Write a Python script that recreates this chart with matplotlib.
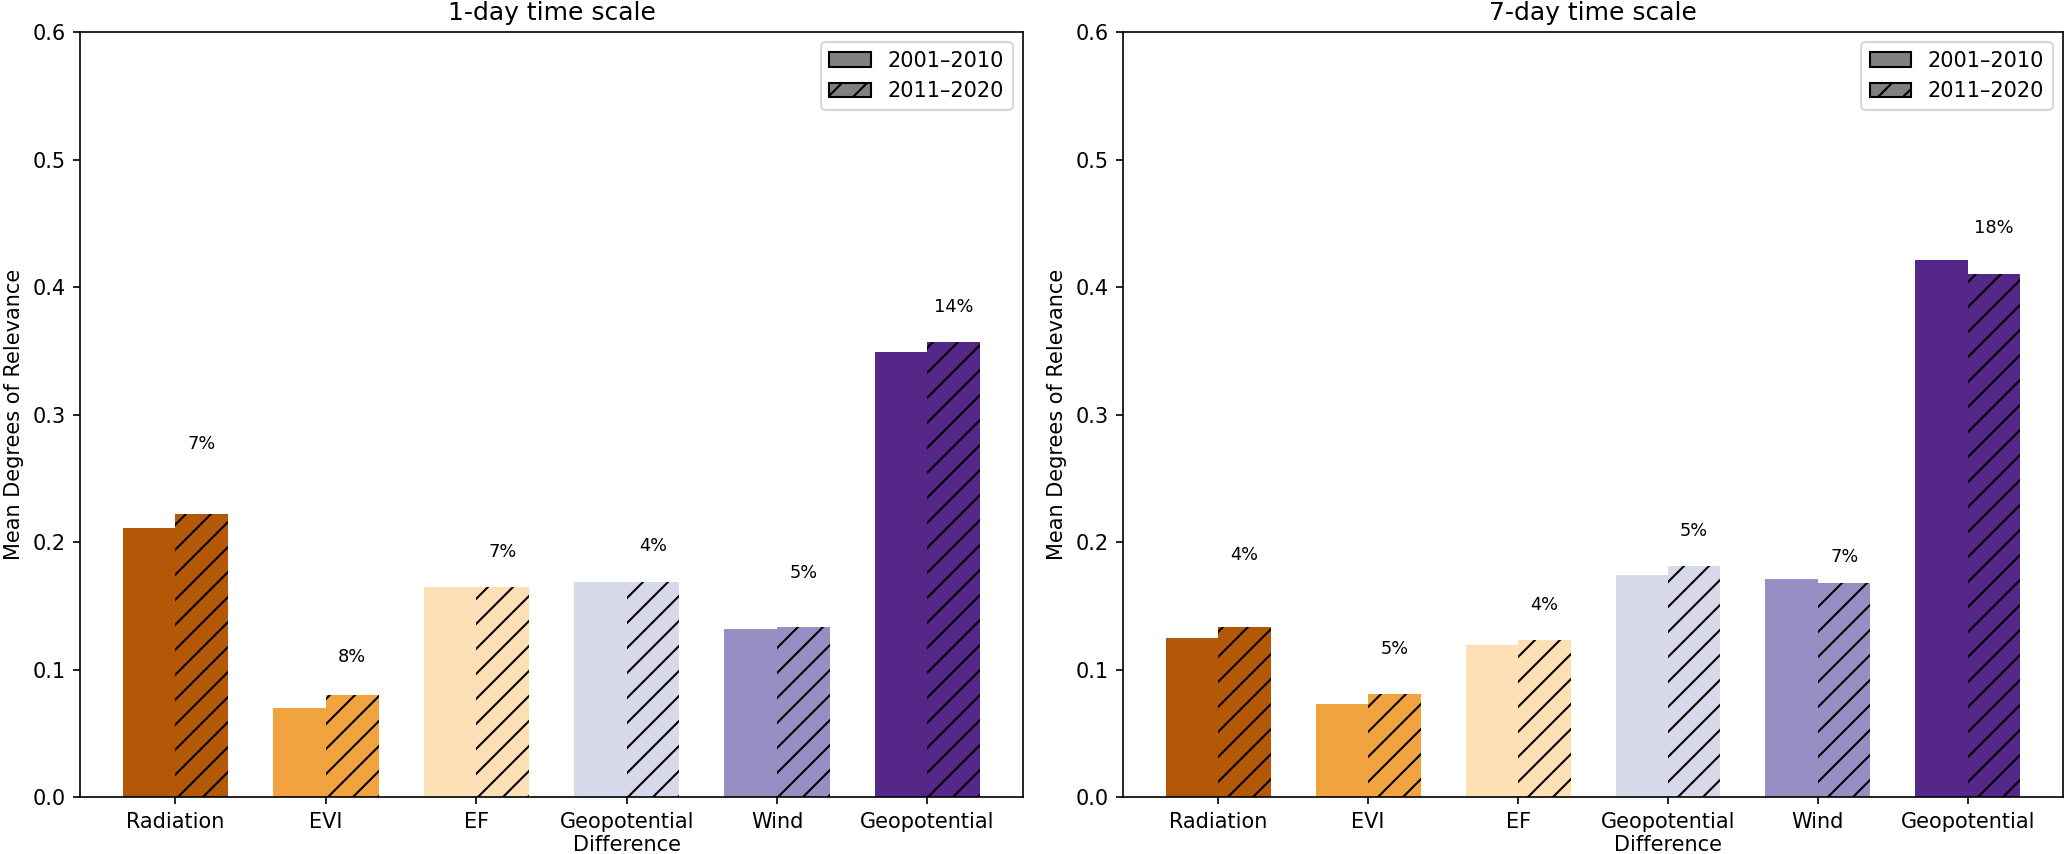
import matplotlib
matplotlib.use("Agg")
import matplotlib.pyplot as plt
import numpy as np
from matplotlib.patches import Patch

# data
variables = ["Radiation", "EVI", "EF", "Geopotential\nDifference", "Wind", "Geopotential"]
colors = ["#b35806", "#f1a340", "#fee0b6", "#d8daeb", "#998ec3", "#542788"]

day1_2001 = [0.211, 0.070, 0.165, 0.169, 0.132, 0.349]
day1_2011 = [0.222, 0.080, 0.165, 0.169, 0.133, 0.357]
day1_pct = ["7%", "8%", "7%", "4%", "5%", "14%"]
day1_label_y = [0.277, 0.110, 0.192, 0.197, 0.176, 0.384]

day7_2001 = [0.125, 0.073, 0.119, 0.174, 0.171, 0.421]
day7_2011 = [0.133, 0.081, 0.123, 0.181, 0.168, 0.410]
day7_pct = ["4%", "5%", "4%", "5%", "7%", "18%"]
day7_label_y = [0.190, 0.116, 0.151, 0.209, 0.188, 0.446]

periods = ["2001\u20132010", "2011\u20132020"]

fig = plt.figure(figsize=(2067/150, 854/150), dpi=150)
ax1 = fig.add_axes([0.0387, 0.0667, 0.4562, 0.8958])
ax2 = fig.add_axes([0.5433, 0.0667, 0.4548, 0.8958])

width = 0.35

def draw(ax, v1, v2, pct, label_y, title):
    x = np.arange(len(variables))
    ax.bar(x - width/2, v1, width, color=colors)
    ax.bar(x + width/2, v2, width, color=colors, hatch="//")
    for xi, t, yy in zip(x, pct, label_y):
        ax.text(xi + width/2, yy, t, ha="center", va="center", fontsize=8.5)
    ax.set_xticks(x)
    ax.set_xticklabels(variables, fontsize=10)
    ax.set_ylim(0, 0.6)
    ax.set_yticks(np.arange(0, 0.61, 0.1))
    ax.tick_params(axis="y", labelsize=10)
    ax.set_ylabel("Mean Degrees of Relevance", fontsize=10)
    ax.set_title(title, fontsize=12)
    handles = [Patch(facecolor="gray", edgecolor="black", label=periods[0]),
               Patch(facecolor="gray", edgecolor="black", hatch="//", label=periods[1])]
    ax.legend(handles=handles, loc="upper right", fontsize=10)

draw(ax1, day1_2001, day1_2011, day1_pct, day1_label_y, "1-day time scale")
draw(ax2, day7_2001, day7_2011, day7_pct, day7_label_y, "7-day time scale")

fig.savefig("out.png", dpi=150)
